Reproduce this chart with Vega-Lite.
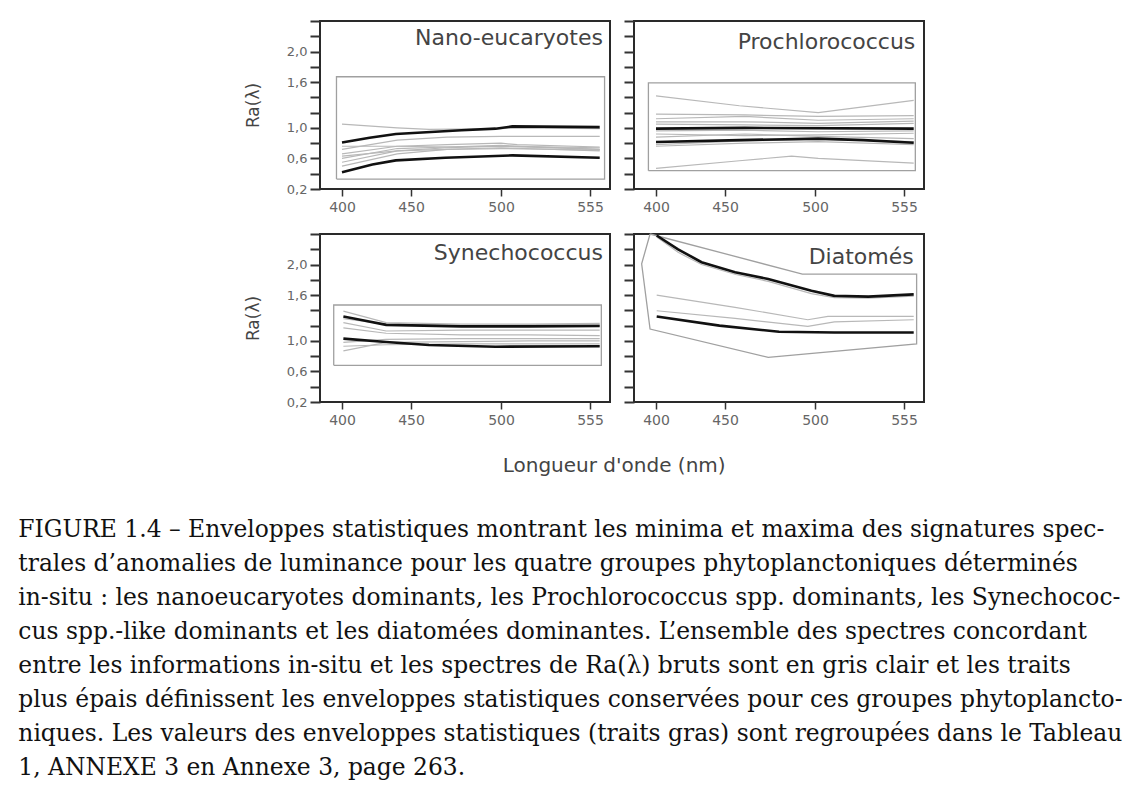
{
  "$schema": "https://vega.github.io/schema/vega-lite/v6.json",
  "padding": {"left": 18, "top": 14, "right": 0, "bottom": 5},
  "background": "white",
  "config": {"view": {"stroke": "#2a2a2a", "strokeWidth": 2}},
  "datasets": {
    "d": [
      {"p":"N","id":"lab","k":"label","label":"Nano-eucaryotes"},
      {"p":"P","id":"lab","k":"label","label":"Prochlorococcus"},
      {"p":"S","id":"lab","k":"label","label":"Synechococcus"},
      {"p":"D","id":"lab","k":"label","label":"Diatomés"},
      {"p":"N","id":"env","k":"env","o":0,"x":396,"y":0.33},
      {"p":"N","id":"env","k":"env","o":1,"x":564,"y":0.33},
      {"p":"N","id":"env","k":"env","o":2,"x":564,"y":1.67},
      {"p":"N","id":"env","k":"env","o":3,"x":396,"y":1.67},
      {"p":"N","id":"env","k":"env","o":4,"x":396,"y":0.33},
      {"p":"N","id":"t1","k":"thin","x":400,"y":1.05},{"p":"N","id":"t1","k":"thin","x":440,"y":1.0},{"p":"N","id":"t1","k":"thin","x":460,"y":0.98},{"p":"N","id":"t1","k":"thin","x":500,"y":0.99},{"p":"N","id":"t1","k":"thin","x":510,"y":1.0},{"p":"N","id":"t1","k":"thin","x":561,"y":0.99},
      {"p":"N","id":"t2","k":"thin","x":400,"y":0.72},{"p":"N","id":"t2","k":"thin","x":440,"y":0.84},{"p":"N","id":"t2","k":"thin","x":470,"y":0.88},{"p":"N","id":"t2","k":"thin","x":500,"y":0.89},{"p":"N","id":"t2","k":"thin","x":561,"y":0.89},
      {"p":"N","id":"t3","k":"thin","x":400,"y":0.66},{"p":"N","id":"t3","k":"thin","x":440,"y":0.76},{"p":"N","id":"t3","k":"thin","x":470,"y":0.78},{"p":"N","id":"t3","k":"thin","x":500,"y":0.8},{"p":"N","id":"t3","k":"thin","x":510,"y":0.78},{"p":"N","id":"t3","k":"thin","x":561,"y":0.75},
      {"p":"N","id":"t4","k":"thin","x":400,"y":0.6},{"p":"N","id":"t4","k":"thin","x":440,"y":0.73},{"p":"N","id":"t4","k":"thin","x":470,"y":0.75},{"p":"N","id":"t4","k":"thin","x":500,"y":0.77},{"p":"N","id":"t4","k":"thin","x":561,"y":0.72},
      {"p":"N","id":"t5","k":"thin","x":400,"y":0.55},{"p":"N","id":"t5","k":"thin","x":440,"y":0.7},{"p":"N","id":"t5","k":"thin","x":470,"y":0.74},{"p":"N","id":"t5","k":"thin","x":500,"y":0.76},{"p":"N","id":"t5","k":"thin","x":561,"y":0.72},
      {"p":"N","id":"t6","k":"thin","x":400,"y":0.5},{"p":"N","id":"t6","k":"thin","x":440,"y":0.66},{"p":"N","id":"t6","k":"thin","x":470,"y":0.72},{"p":"N","id":"t6","k":"thin","x":500,"y":0.74},{"p":"N","id":"t6","k":"thin","x":561,"y":0.7},
      {"p":"N","id":"t7","k":"thin","x":400,"y":0.76},{"p":"N","id":"t7","k":"thin","x":440,"y":0.76},{"p":"N","id":"t7","k":"thin","x":470,"y":0.75},{"p":"N","id":"t7","k":"thin","x":500,"y":0.76},{"p":"N","id":"t7","k":"thin","x":561,"y":0.74},
      {"p":"N","id":"t8","k":"thin","x":400,"y":0.63},{"p":"N","id":"t8","k":"thin","x":440,"y":0.7},{"p":"N","id":"t8","k":"thin","x":470,"y":0.72},{"p":"N","id":"t8","k":"thin","x":500,"y":0.73},{"p":"N","id":"t8","k":"thin","x":561,"y":0.71},
      {"p":"N","id":"up","k":"thick","x":400,"y":0.81},{"p":"N","id":"up","k":"thick","x":420,"y":0.87},{"p":"N","id":"up","k":"thick","x":439,"y":0.92},{"p":"N","id":"up","k":"thick","x":478,"y":0.97},{"p":"N","id":"up","k":"thick","x":497,"y":0.99},{"p":"N","id":"up","k":"thick","x":507,"y":1.02},{"p":"N","id":"up","k":"thick","x":561,"y":1.01},
      {"p":"N","id":"lo","k":"thick","x":400,"y":0.42},{"p":"N","id":"lo","k":"thick","x":422,"y":0.52},{"p":"N","id":"lo","k":"thick","x":439,"y":0.575},{"p":"N","id":"lo","k":"thick","x":469,"y":0.61},{"p":"N","id":"lo","k":"thick","x":507,"y":0.64},{"p":"N","id":"lo","k":"thick","x":561,"y":0.61},

      {"p":"P","id":"env","k":"env","o":0,"x":394.5,"y":0.44},
      {"p":"P","id":"env","k":"env","o":1,"x":562,"y":0.44},
      {"p":"P","id":"env","k":"env","o":2,"x":562,"y":1.59},
      {"p":"P","id":"env","k":"env","o":3,"x":394.5,"y":1.59},
      {"p":"P","id":"env","k":"env","o":4,"x":394.5,"y":0.44},
      {"p":"P","id":"hi","k":"thin","x":400,"y":1.42},{"p":"P","id":"hi","k":"thin","x":458,"y":1.29},{"p":"P","id":"hi","k":"thin","x":502,"y":1.2},{"p":"P","id":"hi","k":"thin","x":561,"y":1.36},
      {"p":"P","id":"lw","k":"thin","x":400,"y":0.47},{"p":"P","id":"lw","k":"thin","x":458,"y":0.57},{"p":"P","id":"lw","k":"thin","x":487,"y":0.63},{"p":"P","id":"lw","k":"thin","x":502,"y":0.6},{"p":"P","id":"lw","k":"thin","x":561,"y":0.54},
      {"p":"P","id":"q1","k":"thin","x":400,"y":1.18},{"p":"P","id":"q1","k":"thin","x":461,"y":1.17},{"p":"P","id":"q1","k":"thin","x":502,"y":1.15},{"p":"P","id":"q1","k":"thin","x":561,"y":1.16},
      {"p":"P","id":"q2","k":"thin","x":400,"y":1.12},{"p":"P","id":"q2","k":"thin","x":461,"y":1.15},{"p":"P","id":"q2","k":"thin","x":502,"y":1.1},{"p":"P","id":"q2","k":"thin","x":561,"y":1.12},
      {"p":"P","id":"q3","k":"thin","x":400,"y":1.05},{"p":"P","id":"q3","k":"thin","x":461,"y":1.04},{"p":"P","id":"q3","k":"thin","x":502,"y":1.03},{"p":"P","id":"q3","k":"thin","x":561,"y":1.06},
      {"p":"P","id":"q4","k":"thin","x":400,"y":0.96},{"p":"P","id":"q4","k":"thin","x":461,"y":0.97},{"p":"P","id":"q4","k":"thin","x":502,"y":0.95},{"p":"P","id":"q4","k":"thin","x":561,"y":0.96},
      {"p":"P","id":"q5","k":"thin","x":400,"y":0.92},{"p":"P","id":"q5","k":"thin","x":461,"y":0.9},{"p":"P","id":"q5","k":"thin","x":502,"y":0.91},{"p":"P","id":"q5","k":"thin","x":561,"y":0.93},
      {"p":"P","id":"q6","k":"thin","x":400,"y":0.88},{"p":"P","id":"q6","k":"thin","x":461,"y":0.92},{"p":"P","id":"q6","k":"thin","x":502,"y":0.89},{"p":"P","id":"q6","k":"thin","x":561,"y":0.86},
      {"p":"P","id":"q7","k":"thin","x":400,"y":0.78},{"p":"P","id":"q7","k":"thin","x":461,"y":0.83},{"p":"P","id":"q7","k":"thin","x":502,"y":0.85},{"p":"P","id":"q7","k":"thin","x":561,"y":0.82},
      {"p":"P","id":"q8","k":"thin","x":400,"y":0.76},{"p":"P","id":"q8","k":"thin","x":461,"y":0.8},{"p":"P","id":"q8","k":"thin","x":502,"y":0.82},{"p":"P","id":"q8","k":"thin","x":561,"y":0.78},
      {"p":"P","id":"q9","k":"thin","x":400,"y":1.08},{"p":"P","id":"q9","k":"thin","x":461,"y":1.08},{"p":"P","id":"q9","k":"thin","x":502,"y":1.06},{"p":"P","id":"q9","k":"thin","x":561,"y":1.09},
      {"p":"P","id":"up","k":"thick","x":400,"y":0.99},{"p":"P","id":"up","k":"thick","x":461,"y":1.0},{"p":"P","id":"up","k":"thick","x":561,"y":0.99},
      {"p":"P","id":"lo","k":"thick","x":400,"y":0.815},{"p":"P","id":"lo","k":"thick","x":458,"y":0.84},{"p":"P","id":"lo","k":"thick","x":502,"y":0.86},{"p":"P","id":"lo","k":"thick","x":530,"y":0.84},{"p":"P","id":"lo","k":"thick","x":561,"y":0.805},

      {"p":"S","id":"env","k":"env","o":0,"x":394,"y":0.68},
      {"p":"S","id":"env","k":"env","o":1,"x":562,"y":0.68},
      {"p":"S","id":"env","k":"env","o":2,"x":562,"y":1.47},
      {"p":"S","id":"env","k":"env","o":3,"x":394,"y":1.47},
      {"p":"S","id":"env","k":"env","o":4,"x":394,"y":0.68},
      {"p":"S","id":"s1","k":"thin","x":401,"y":1.39},{"p":"S","id":"s1","k":"thin","x":432,"y":1.24},{"p":"S","id":"s1","k":"thin","x":478,"y":1.22},{"p":"S","id":"s1","k":"thin","x":517,"y":1.22},{"p":"S","id":"s1","k":"thin","x":561,"y":1.23},
      {"p":"S","id":"s2","k":"thin","x":401,"y":1.24},{"p":"S","id":"s2","k":"thin","x":432,"y":1.13},{"p":"S","id":"s2","k":"thin","x":478,"y":1.14},{"p":"S","id":"s2","k":"thin","x":517,"y":1.14},{"p":"S","id":"s2","k":"thin","x":561,"y":1.14},
      {"p":"S","id":"s3","k":"thin","x":401,"y":1.17},{"p":"S","id":"s3","k":"thin","x":432,"y":1.1},{"p":"S","id":"s3","k":"thin","x":478,"y":1.08},{"p":"S","id":"s3","k":"thin","x":517,"y":1.08},{"p":"S","id":"s3","k":"thin","x":561,"y":1.07},
      {"p":"S","id":"s4","k":"thin","x":401,"y":0.98},{"p":"S","id":"s4","k":"thin","x":432,"y":1.02},{"p":"S","id":"s4","k":"thin","x":478,"y":1.03},{"p":"S","id":"s4","k":"thin","x":517,"y":1.03},{"p":"S","id":"s4","k":"thin","x":561,"y":1.03},
      {"p":"S","id":"s5","k":"thin","x":401,"y":0.87},{"p":"S","id":"s5","k":"thin","x":432,"y":0.98},{"p":"S","id":"s5","k":"thin","x":478,"y":0.99},{"p":"S","id":"s5","k":"thin","x":517,"y":1.0},{"p":"S","id":"s5","k":"thin","x":561,"y":1.0},
      {"p":"S","id":"s6","k":"thin","x":401,"y":0.93},{"p":"S","id":"s6","k":"thin","x":432,"y":0.95},{"p":"S","id":"s6","k":"thin","x":478,"y":0.96},{"p":"S","id":"s6","k":"thin","x":517,"y":0.96},{"p":"S","id":"s6","k":"thin","x":561,"y":0.96},
      {"p":"S","id":"s7","k":"thin","x":401,"y":1.29},{"p":"S","id":"s7","k":"thin","x":432,"y":1.22},{"p":"S","id":"s7","k":"thin","x":478,"y":1.2},{"p":"S","id":"s7","k":"thin","x":517,"y":1.21},{"p":"S","id":"s7","k":"thin","x":561,"y":1.21},
      {"p":"S","id":"up","k":"thick","x":401,"y":1.32},{"p":"S","id":"up","k":"thick","x":415,"y":1.27},{"p":"S","id":"up","k":"thick","x":432,"y":1.21},{"p":"S","id":"up","k":"thick","x":478,"y":1.19},{"p":"S","id":"up","k":"thick","x":517,"y":1.19},{"p":"S","id":"up","k":"thick","x":561,"y":1.195},
      {"p":"S","id":"lo","k":"thick","x":401,"y":1.03},{"p":"S","id":"lo","k":"thick","x":432,"y":0.985},{"p":"S","id":"lo","k":"thick","x":460,"y":0.946},{"p":"S","id":"lo","k":"thick","x":497,"y":0.924},{"p":"S","id":"lo","k":"thick","x":561,"y":0.93},

      {"p":"D","id":"env","k":"env","o":0,"x":395.7,"y":2.4},
      {"p":"D","id":"env","k":"env","o":1,"x":493,"y":1.875},
      {"p":"D","id":"env","k":"env","o":2,"x":562.8,"y":1.875},
      {"p":"D","id":"env","k":"env","o":3,"x":562.8,"y":0.96},
      {"p":"D","id":"env","k":"env","o":4,"x":474,"y":0.785},
      {"p":"D","id":"env","k":"env","o":5,"x":395.7,"y":1.155},
      {"p":"D","id":"env","k":"env","o":6,"x":389.6,"y":2.01},
      {"p":"D","id":"env","k":"env","o":7,"x":395.7,"y":2.4},
      {"p":"D","id":"sh","k":"thin","x":400.5,"y":2.36},{"p":"D","id":"sh","k":"thin","x":416,"y":2.16},{"p":"D","id":"sh","k":"thin","x":433,"y":2.0},{"p":"D","id":"sh","k":"thin","x":456,"y":1.87},{"p":"D","id":"sh","k":"thin","x":474,"y":1.78},{"p":"D","id":"sh","k":"thin","x":498,"y":1.62},{"p":"D","id":"sh","k":"thin","x":512,"y":1.565},{"p":"D","id":"sh","k":"thin","x":533,"y":1.56},{"p":"D","id":"sh","k":"thin","x":561,"y":1.585},
      {"p":"D","id":"a","k":"thin","x":400.5,"y":1.6},{"p":"D","id":"a","k":"thin","x":455.6,"y":1.44},{"p":"D","id":"a","k":"thin","x":496,"y":1.277},{"p":"D","id":"a","k":"thin","x":508,"y":1.32},{"p":"D","id":"a","k":"thin","x":561,"y":1.32},
      {"p":"D","id":"b","k":"thin","x":400.5,"y":1.395},{"p":"D","id":"b","k":"thin","x":455.6,"y":1.296},{"p":"D","id":"b","k":"thin","x":496,"y":1.19},{"p":"D","id":"b","k":"thin","x":512,"y":1.25},{"p":"D","id":"b","k":"thin","x":561,"y":1.277},
      {"p":"D","id":"up","k":"thick","x":400.5,"y":2.38},{"p":"D","id":"up","k":"thick","x":416,"y":2.2},{"p":"D","id":"up","k":"thick","x":433,"y":2.03},{"p":"D","id":"up","k":"thick","x":455.6,"y":1.9},{"p":"D","id":"up","k":"thick","x":474,"y":1.81},{"p":"D","id":"up","k":"thick","x":498,"y":1.657},{"p":"D","id":"up","k":"thick","x":512,"y":1.59},{"p":"D","id":"up","k":"thick","x":533,"y":1.58},{"p":"D","id":"up","k":"thick","x":561,"y":1.61},
      {"p":"D","id":"lo","k":"thick","x":400.5,"y":1.32},{"p":"D","id":"lo","k":"thick","x":446,"y":1.2},{"p":"D","id":"lo","k":"thick","x":480,"y":1.12},{"p":"D","id":"lo","k":"thick","x":512,"y":1.11},{"p":"D","id":"lo","k":"thick","x":561,"y":1.11}
    ]
  },
  "title": {
    "text": [
      "FIGURE 1.4 –  Enveloppes statistiques montrant les minima et maxima des signatures spec-",
      "trales d’anomalies de luminance pour les quatre groupes phytoplanctoniques déterminés",
      "in-situ : les nanoeucaryotes dominants, les Prochlorococcus spp. dominants, les Synechococ-",
      "cus spp.-like dominants et les diatomées dominantes. L’ensemble des spectres concordant",
      "entre les informations in-situ et les spectres de Ra(λ) bruts sont en gris clair et les traits",
      "plus épais définissent les enveloppes statistiques conservées pour ces groupes phytoplancto-",
      "niques. Les valeurs des enveloppes statistiques (traits gras) sont regroupées dans le Tableau",
      "1, ANNEXE 3 en Annexe 3, page 263."
    ],
    "orient": "bottom",
    "anchor": "start",
    "align": "left",
    "font": "DejaVu Serif",
    "fontSize": 23.4,
    "fontWeight": "normal",
    "color": "#111",
    "lineHeight": 34,
    "offset": 43,
    "dx": -225
  },
  "vconcat": [
    {
      "columns": 2,
      "bounds": "flush",
      "spacing": {"row": 45, "column": 24},
      "title": {"text": "Longueur d'onde (nm)", "orient": "bottom", "anchor": "middle", "font": "DejaVu Sans", "fontSize": 20, "fontWeight": "normal", "color": "#444", "offset": 28, "dx": 30},
      "concat": [
        {
          "width": 290, "height": 168,
          "data": {"name": "d"},
          "layer": [
            {"transform": [{"filter": "datum.p === 'N' && datum.k === 'env'"}], "mark": {"type": "line", "stroke": "#a0a0a0", "strokeWidth": 1.3},
             "encoding": {
              "x": {"field": "x", "type": "quantitative", "scale": {"domain": [400, 450, 500, 555], "range": [22, 91, 181, 270], "nice": false, "zero": false}, "axis": {"values": [400, 450, 500, 555], "title": null, "domain": false, "grid": false, "tickSize": 7, "tickWidth": 1.5, "tickColor": "#333", "labelFont": "DejaVu Sans", "labelFontSize": 14, "labelColor": "#666", "labelPadding": 4, "format": "d", "labelOverlap": false, "labelFlush": false}},
              "y": {"field": "y", "type": "quantitative", "scale": {"domain": [0.2, 2.4], "nice": false, "zero": false}, "axis": {"values": [0.2, 0.4, 0.6, 0.8, 1.0, 1.2, 1.4, 1.6, 1.8, 2.0, 2.2, 2.4], "domain": false, "grid": false, "tickSize": 10, "tickWidth": 2, "tickColor": "#333", "labelFont": "DejaVu Sans", "labelFontSize": 13, "labelColor": "#666", "labelPadding": 3, "labelOverlap": false, "labelFlush": false, "labelExpr": "indexof(['0.2','0.6','1.0','1.6','2.0'], format(datum.value, '.1f')) >= 0 ? replace(format(datum.value, '.1f'), '.', ',') : ''", "title": "Ra(λ)", "titleFont": "DejaVu Sans", "titleFontSize": 17, "titleFontWeight": "normal", "titleColor": "#444", "titlePadding": 24}},
              "detail": {"field": "id", "type": "nominal"}, "order": {"field": "o", "type": "quantitative"}}},
            {"transform": [{"filter": "datum.p === 'N' && datum.k === 'thin'"}], "mark": {"type": "line", "stroke": "#b8b8b8", "strokeWidth": 1.2},
             "encoding": {
              "x": {"field": "x", "type": "quantitative", "scale": {"domain": [400, 450, 500, 555], "range": [22, 91, 181, 270], "nice": false, "zero": false}, "axis": {"values": [400, 450, 500, 555], "title": null, "domain": false, "grid": false, "tickSize": 7, "tickWidth": 1.5, "tickColor": "#333", "labelFont": "DejaVu Sans", "labelFontSize": 14, "labelColor": "#666", "labelPadding": 4, "format": "d", "labelOverlap": false, "labelFlush": false}},
              "y": {"field": "y", "type": "quantitative", "scale": {"domain": [0.2, 2.4], "nice": false, "zero": false}, "axis": {"values": [0.2, 0.4, 0.6, 0.8, 1.0, 1.2, 1.4, 1.6, 1.8, 2.0, 2.2, 2.4], "domain": false, "grid": false, "tickSize": 10, "tickWidth": 2, "tickColor": "#333", "labelFont": "DejaVu Sans", "labelFontSize": 13, "labelColor": "#666", "labelPadding": 3, "labelOverlap": false, "labelFlush": false, "labelExpr": "indexof(['0.2','0.6','1.0','1.6','2.0'], format(datum.value, '.1f')) >= 0 ? replace(format(datum.value, '.1f'), '.', ',') : ''", "title": "Ra(λ)", "titleFont": "DejaVu Sans", "titleFontSize": 17, "titleFontWeight": "normal", "titleColor": "#444", "titlePadding": 24}},
              "detail": {"field": "id", "type": "nominal"}}},
            {"transform": [{"filter": "datum.p === 'N' && datum.k === 'thick'"}], "mark": {"type": "line", "stroke": "#111", "strokeWidth": 2.6},
             "encoding": {
              "x": {"field": "x", "type": "quantitative", "scale": {"domain": [400, 450, 500, 555], "range": [22, 91, 181, 270], "nice": false, "zero": false}, "axis": {"values": [400, 450, 500, 555], "title": null, "domain": false, "grid": false, "tickSize": 7, "tickWidth": 1.5, "tickColor": "#333", "labelFont": "DejaVu Sans", "labelFontSize": 14, "labelColor": "#666", "labelPadding": 4, "format": "d", "labelOverlap": false, "labelFlush": false}},
              "y": {"field": "y", "type": "quantitative", "scale": {"domain": [0.2, 2.4], "nice": false, "zero": false}, "axis": {"values": [0.2, 0.4, 0.6, 0.8, 1.0, 1.2, 1.4, 1.6, 1.8, 2.0, 2.2, 2.4], "domain": false, "grid": false, "tickSize": 10, "tickWidth": 2, "tickColor": "#333", "labelFont": "DejaVu Sans", "labelFontSize": 13, "labelColor": "#666", "labelPadding": 3, "labelOverlap": false, "labelFlush": false, "labelExpr": "indexof(['0.2','0.6','1.0','1.6','2.0'], format(datum.value, '.1f')) >= 0 ? replace(format(datum.value, '.1f'), '.', ',') : ''", "title": "Ra(λ)", "titleFont": "DejaVu Sans", "titleFontSize": 17, "titleFontWeight": "normal", "titleColor": "#444", "titlePadding": 24}},
              "detail": {"field": "id", "type": "nominal"}}},
            {"transform": [{"filter": "datum.p === 'N' && datum.k === 'label'"}], "mark": {"type": "text", "align": "right", "baseline": "alphabetic", "font": "DejaVu Sans", "fontSize": 22, "fill": "#444"},
             "encoding": {
              "x": {"datum": 563, "type": "quantitative", "scale": {"domain": [400, 450, 500, 555], "range": [22, 91, 181, 270], "nice": false, "zero": false}, "axis": {"values": [400, 450, 500, 555], "title": null, "domain": false, "grid": false, "tickSize": 7, "tickWidth": 1.5, "tickColor": "#333", "labelFont": "DejaVu Sans", "labelFontSize": 14, "labelColor": "#666", "labelPadding": 4, "format": "d", "labelOverlap": false, "labelFlush": false}},
              "y": {"datum": 2.08, "type": "quantitative", "scale": {"domain": [0.2, 2.4], "nice": false, "zero": false}, "axis": {"values": [0.2, 0.4, 0.6, 0.8, 1.0, 1.2, 1.4, 1.6, 1.8, 2.0, 2.2, 2.4], "domain": false, "grid": false, "tickSize": 10, "tickWidth": 2, "tickColor": "#333", "labelFont": "DejaVu Sans", "labelFontSize": 13, "labelColor": "#666", "labelPadding": 3, "labelOverlap": false, "labelFlush": false, "labelExpr": "indexof(['0.2','0.6','1.0','1.6','2.0'], format(datum.value, '.1f')) >= 0 ? replace(format(datum.value, '.1f'), '.', ',') : ''", "title": "Ra(λ)", "titleFont": "DejaVu Sans", "titleFontSize": 17, "titleFontWeight": "normal", "titleColor": "#444", "titlePadding": 24}},
              "text": {"field": "label", "type": "nominal"}}}
          ]
        },
        {
          "width": 290, "height": 168,
          "data": {"name": "d"},
          "layer": [
            {"transform": [{"filter": "datum.p === 'P' && datum.k === 'env'"}], "mark": {"type": "line", "stroke": "#a0a0a0", "strokeWidth": 1.3},
             "encoding": {
              "x": {"field": "x", "type": "quantitative", "scale": {"domain": [400, 450, 500, 555], "range": [22, 91, 181, 270], "nice": false, "zero": false}, "axis": {"values": [400, 450, 500, 555], "title": null, "domain": false, "grid": false, "tickSize": 7, "tickWidth": 1.5, "tickColor": "#333", "labelFont": "DejaVu Sans", "labelFontSize": 14, "labelColor": "#666", "labelPadding": 4, "format": "d", "labelOverlap": false, "labelFlush": false}},
              "y": {"field": "y", "type": "quantitative", "scale": {"domain": [0.2, 2.4], "nice": false, "zero": false}, "axis": {"values": [0.2, 0.4, 0.6, 0.8, 1.0, 1.2, 1.4, 1.6, 1.8, 2.0, 2.2, 2.4], "domain": false, "grid": false, "tickSize": 10, "tickWidth": 2, "tickColor": "#333", "labels": false, "title": null}},
              "detail": {"field": "id", "type": "nominal"}, "order": {"field": "o", "type": "quantitative"}}},
            {"transform": [{"filter": "datum.p === 'P' && datum.k === 'thin'"}], "mark": {"type": "line", "stroke": "#b8b8b8", "strokeWidth": 1.2},
             "encoding": {
              "x": {"field": "x", "type": "quantitative", "scale": {"domain": [400, 450, 500, 555], "range": [22, 91, 181, 270], "nice": false, "zero": false}, "axis": {"values": [400, 450, 500, 555], "title": null, "domain": false, "grid": false, "tickSize": 7, "tickWidth": 1.5, "tickColor": "#333", "labelFont": "DejaVu Sans", "labelFontSize": 14, "labelColor": "#666", "labelPadding": 4, "format": "d", "labelOverlap": false, "labelFlush": false}},
              "y": {"field": "y", "type": "quantitative", "scale": {"domain": [0.2, 2.4], "nice": false, "zero": false}, "axis": {"values": [0.2, 0.4, 0.6, 0.8, 1.0, 1.2, 1.4, 1.6, 1.8, 2.0, 2.2, 2.4], "domain": false, "grid": false, "tickSize": 10, "tickWidth": 2, "tickColor": "#333", "labels": false, "title": null}},
              "detail": {"field": "id", "type": "nominal"}}},
            {"transform": [{"filter": "datum.p === 'P' && datum.k === 'thick'"}], "mark": {"type": "line", "stroke": "#111", "strokeWidth": 2.6},
             "encoding": {
              "x": {"field": "x", "type": "quantitative", "scale": {"domain": [400, 450, 500, 555], "range": [22, 91, 181, 270], "nice": false, "zero": false}, "axis": {"values": [400, 450, 500, 555], "title": null, "domain": false, "grid": false, "tickSize": 7, "tickWidth": 1.5, "tickColor": "#333", "labelFont": "DejaVu Sans", "labelFontSize": 14, "labelColor": "#666", "labelPadding": 4, "format": "d", "labelOverlap": false, "labelFlush": false}},
              "y": {"field": "y", "type": "quantitative", "scale": {"domain": [0.2, 2.4], "nice": false, "zero": false}, "axis": {"values": [0.2, 0.4, 0.6, 0.8, 1.0, 1.2, 1.4, 1.6, 1.8, 2.0, 2.2, 2.4], "domain": false, "grid": false, "tickSize": 10, "tickWidth": 2, "tickColor": "#333", "labels": false, "title": null}},
              "detail": {"field": "id", "type": "nominal"}}},
            {"transform": [{"filter": "datum.p === 'P' && datum.k === 'label'"}], "mark": {"type": "text", "align": "right", "baseline": "alphabetic", "font": "DejaVu Sans", "fontSize": 22, "fill": "#444"},
             "encoding": {
              "x": {"datum": 562, "type": "quantitative", "scale": {"domain": [400, 450, 500, 555], "range": [22, 91, 181, 270], "nice": false, "zero": false}, "axis": {"values": [400, 450, 500, 555], "title": null, "domain": false, "grid": false, "tickSize": 7, "tickWidth": 1.5, "tickColor": "#333", "labelFont": "DejaVu Sans", "labelFontSize": 14, "labelColor": "#666", "labelPadding": 4, "format": "d", "labelOverlap": false, "labelFlush": false}},
              "y": {"datum": 2.03, "type": "quantitative", "scale": {"domain": [0.2, 2.4], "nice": false, "zero": false}, "axis": {"values": [0.2, 0.4, 0.6, 0.8, 1.0, 1.2, 1.4, 1.6, 1.8, 2.0, 2.2, 2.4], "domain": false, "grid": false, "tickSize": 10, "tickWidth": 2, "tickColor": "#333", "labels": false, "title": null}},
              "text": {"field": "label", "type": "nominal"}}}
          ]
        },
        {
          "width": 290, "height": 168,
          "data": {"name": "d"},
          "layer": [
            {"transform": [{"filter": "datum.p === 'S' && datum.k === 'env'"}], "mark": {"type": "line", "stroke": "#a0a0a0", "strokeWidth": 1.3},
             "encoding": {
              "x": {"field": "x", "type": "quantitative", "scale": {"domain": [400, 450, 500, 555], "range": [22, 91, 181, 270], "nice": false, "zero": false}, "axis": {"values": [400, 450, 500, 555], "title": null, "domain": false, "grid": false, "tickSize": 7, "tickWidth": 1.5, "tickColor": "#333", "labelFont": "DejaVu Sans", "labelFontSize": 14, "labelColor": "#666", "labelPadding": 4, "format": "d", "labelOverlap": false, "labelFlush": false}},
              "y": {"field": "y", "type": "quantitative", "scale": {"domain": [0.2, 2.4], "nice": false, "zero": false}, "axis": {"values": [0.2, 0.4, 0.6, 0.8, 1.0, 1.2, 1.4, 1.6, 1.8, 2.0, 2.2, 2.4], "domain": false, "grid": false, "tickSize": 10, "tickWidth": 2, "tickColor": "#333", "labelFont": "DejaVu Sans", "labelFontSize": 13, "labelColor": "#666", "labelPadding": 3, "labelOverlap": false, "labelFlush": false, "labelExpr": "indexof(['0.2','0.6','1.0','1.6','2.0'], format(datum.value, '.1f')) >= 0 ? replace(format(datum.value, '.1f'), '.', ',') : ''", "title": "Ra(λ)", "titleFont": "DejaVu Sans", "titleFontSize": 17, "titleFontWeight": "normal", "titleColor": "#444", "titlePadding": 24}},
              "detail": {"field": "id", "type": "nominal"}, "order": {"field": "o", "type": "quantitative"}}},
            {"transform": [{"filter": "datum.p === 'S' && datum.k === 'thin'"}], "mark": {"type": "line", "stroke": "#b8b8b8", "strokeWidth": 1.2},
             "encoding": {
              "x": {"field": "x", "type": "quantitative", "scale": {"domain": [400, 450, 500, 555], "range": [22, 91, 181, 270], "nice": false, "zero": false}, "axis": {"values": [400, 450, 500, 555], "title": null, "domain": false, "grid": false, "tickSize": 7, "tickWidth": 1.5, "tickColor": "#333", "labelFont": "DejaVu Sans", "labelFontSize": 14, "labelColor": "#666", "labelPadding": 4, "format": "d", "labelOverlap": false, "labelFlush": false}},
              "y": {"field": "y", "type": "quantitative", "scale": {"domain": [0.2, 2.4], "nice": false, "zero": false}, "axis": {"values": [0.2, 0.4, 0.6, 0.8, 1.0, 1.2, 1.4, 1.6, 1.8, 2.0, 2.2, 2.4], "domain": false, "grid": false, "tickSize": 10, "tickWidth": 2, "tickColor": "#333", "labelFont": "DejaVu Sans", "labelFontSize": 13, "labelColor": "#666", "labelPadding": 3, "labelOverlap": false, "labelFlush": false, "labelExpr": "indexof(['0.2','0.6','1.0','1.6','2.0'], format(datum.value, '.1f')) >= 0 ? replace(format(datum.value, '.1f'), '.', ',') : ''", "title": "Ra(λ)", "titleFont": "DejaVu Sans", "titleFontSize": 17, "titleFontWeight": "normal", "titleColor": "#444", "titlePadding": 24}},
              "detail": {"field": "id", "type": "nominal"}}},
            {"transform": [{"filter": "datum.p === 'S' && datum.k === 'thick'"}], "mark": {"type": "line", "stroke": "#111", "strokeWidth": 2.6},
             "encoding": {
              "x": {"field": "x", "type": "quantitative", "scale": {"domain": [400, 450, 500, 555], "range": [22, 91, 181, 270], "nice": false, "zero": false}, "axis": {"values": [400, 450, 500, 555], "title": null, "domain": false, "grid": false, "tickSize": 7, "tickWidth": 1.5, "tickColor": "#333", "labelFont": "DejaVu Sans", "labelFontSize": 14, "labelColor": "#666", "labelPadding": 4, "format": "d", "labelOverlap": false, "labelFlush": false}},
              "y": {"field": "y", "type": "quantitative", "scale": {"domain": [0.2, 2.4], "nice": false, "zero": false}, "axis": {"values": [0.2, 0.4, 0.6, 0.8, 1.0, 1.2, 1.4, 1.6, 1.8, 2.0, 2.2, 2.4], "domain": false, "grid": false, "tickSize": 10, "tickWidth": 2, "tickColor": "#333", "labelFont": "DejaVu Sans", "labelFontSize": 13, "labelColor": "#666", "labelPadding": 3, "labelOverlap": false, "labelFlush": false, "labelExpr": "indexof(['0.2','0.6','1.0','1.6','2.0'], format(datum.value, '.1f')) >= 0 ? replace(format(datum.value, '.1f'), '.', ',') : ''", "title": "Ra(λ)", "titleFont": "DejaVu Sans", "titleFontSize": 17, "titleFontWeight": "normal", "titleColor": "#444", "titlePadding": 24}},
              "detail": {"field": "id", "type": "nominal"}}},
            {"transform": [{"filter": "datum.p === 'S' && datum.k === 'label'"}], "mark": {"type": "text", "align": "right", "baseline": "alphabetic", "font": "DejaVu Sans", "fontSize": 22, "fill": "#444"},
             "encoding": {
              "x": {"datum": 563, "type": "quantitative", "scale": {"domain": [400, 450, 500, 555], "range": [22, 91, 181, 270], "nice": false, "zero": false}, "axis": {"values": [400, 450, 500, 555], "title": null, "domain": false, "grid": false, "tickSize": 7, "tickWidth": 1.5, "tickColor": "#333", "labelFont": "DejaVu Sans", "labelFontSize": 14, "labelColor": "#666", "labelPadding": 4, "format": "d", "labelOverlap": false, "labelFlush": false}},
              "y": {"datum": 2.06, "type": "quantitative", "scale": {"domain": [0.2, 2.4], "nice": false, "zero": false}, "axis": {"values": [0.2, 0.4, 0.6, 0.8, 1.0, 1.2, 1.4, 1.6, 1.8, 2.0, 2.2, 2.4], "domain": false, "grid": false, "tickSize": 10, "tickWidth": 2, "tickColor": "#333", "labelFont": "DejaVu Sans", "labelFontSize": 13, "labelColor": "#666", "labelPadding": 3, "labelOverlap": false, "labelFlush": false, "labelExpr": "indexof(['0.2','0.6','1.0','1.6','2.0'], format(datum.value, '.1f')) >= 0 ? replace(format(datum.value, '.1f'), '.', ',') : ''", "title": "Ra(λ)", "titleFont": "DejaVu Sans", "titleFontSize": 17, "titleFontWeight": "normal", "titleColor": "#444", "titlePadding": 24}},
              "text": {"field": "label", "type": "nominal"}}}
          ]
        },
        {
          "width": 290, "height": 168,
          "data": {"name": "d"},
          "layer": [
            {"transform": [{"filter": "datum.p === 'D' && datum.k === 'env'"}], "mark": {"type": "line", "stroke": "#a0a0a0", "strokeWidth": 1.3},
             "encoding": {
              "x": {"field": "x", "type": "quantitative", "scale": {"domain": [400, 450, 500, 555], "range": [22, 91, 181, 270], "nice": false, "zero": false}, "axis": {"values": [400, 450, 500, 555], "title": null, "domain": false, "grid": false, "tickSize": 7, "tickWidth": 1.5, "tickColor": "#333", "labelFont": "DejaVu Sans", "labelFontSize": 14, "labelColor": "#666", "labelPadding": 4, "format": "d", "labelOverlap": false, "labelFlush": false}},
              "y": {"field": "y", "type": "quantitative", "scale": {"domain": [0.2, 2.4], "nice": false, "zero": false}, "axis": {"values": [0.2, 0.4, 0.6, 0.8, 1.0, 1.2, 1.4, 1.6, 1.8, 2.0, 2.2, 2.4], "domain": false, "grid": false, "tickSize": 10, "tickWidth": 2, "tickColor": "#333", "labels": false, "title": null}},
              "detail": {"field": "id", "type": "nominal"}, "order": {"field": "o", "type": "quantitative"}}},
            {"transform": [{"filter": "datum.p === 'D' && datum.k === 'thin'"}], "mark": {"type": "line", "stroke": "#b8b8b8", "strokeWidth": 1.2},
             "encoding": {
              "x": {"field": "x", "type": "quantitative", "scale": {"domain": [400, 450, 500, 555], "range": [22, 91, 181, 270], "nice": false, "zero": false}, "axis": {"values": [400, 450, 500, 555], "title": null, "domain": false, "grid": false, "tickSize": 7, "tickWidth": 1.5, "tickColor": "#333", "labelFont": "DejaVu Sans", "labelFontSize": 14, "labelColor": "#666", "labelPadding": 4, "format": "d", "labelOverlap": false, "labelFlush": false}},
              "y": {"field": "y", "type": "quantitative", "scale": {"domain": [0.2, 2.4], "nice": false, "zero": false}, "axis": {"values": [0.2, 0.4, 0.6, 0.8, 1.0, 1.2, 1.4, 1.6, 1.8, 2.0, 2.2, 2.4], "domain": false, "grid": false, "tickSize": 10, "tickWidth": 2, "tickColor": "#333", "labels": false, "title": null}},
              "detail": {"field": "id", "type": "nominal"}}},
            {"transform": [{"filter": "datum.p === 'D' && datum.k === 'thick'"}], "mark": {"type": "line", "stroke": "#111", "strokeWidth": 2.6},
             "encoding": {
              "x": {"field": "x", "type": "quantitative", "scale": {"domain": [400, 450, 500, 555], "range": [22, 91, 181, 270], "nice": false, "zero": false}, "axis": {"values": [400, 450, 500, 555], "title": null, "domain": false, "grid": false, "tickSize": 7, "tickWidth": 1.5, "tickColor": "#333", "labelFont": "DejaVu Sans", "labelFontSize": 14, "labelColor": "#666", "labelPadding": 4, "format": "d", "labelOverlap": false, "labelFlush": false}},
              "y": {"field": "y", "type": "quantitative", "scale": {"domain": [0.2, 2.4], "nice": false, "zero": false}, "axis": {"values": [0.2, 0.4, 0.6, 0.8, 1.0, 1.2, 1.4, 1.6, 1.8, 2.0, 2.2, 2.4], "domain": false, "grid": false, "tickSize": 10, "tickWidth": 2, "tickColor": "#333", "labels": false, "title": null}},
              "detail": {"field": "id", "type": "nominal"}}},
            {"transform": [{"filter": "datum.p === 'D' && datum.k === 'label'"}], "mark": {"type": "text", "align": "right", "baseline": "alphabetic", "font": "DejaVu Sans", "fontSize": 22, "fill": "#444"},
             "encoding": {
              "x": {"datum": 561, "type": "quantitative", "scale": {"domain": [400, 450, 500, 555], "range": [22, 91, 181, 270], "nice": false, "zero": false}, "axis": {"values": [400, 450, 500, 555], "title": null, "domain": false, "grid": false, "tickSize": 7, "tickWidth": 1.5, "tickColor": "#333", "labelFont": "DejaVu Sans", "labelFontSize": 14, "labelColor": "#666", "labelPadding": 4, "format": "d", "labelOverlap": false, "labelFlush": false}},
              "y": {"datum": 2.01, "type": "quantitative", "scale": {"domain": [0.2, 2.4], "nice": false, "zero": false}, "axis": {"values": [0.2, 0.4, 0.6, 0.8, 1.0, 1.2, 1.4, 1.6, 1.8, 2.0, 2.2, 2.4], "domain": false, "grid": false, "tickSize": 10, "tickWidth": 2, "tickColor": "#333", "labels": false, "title": null}},
              "text": {"field": "label", "type": "nominal"}}}
          ]
        }
      ]
    }
  ]
}
